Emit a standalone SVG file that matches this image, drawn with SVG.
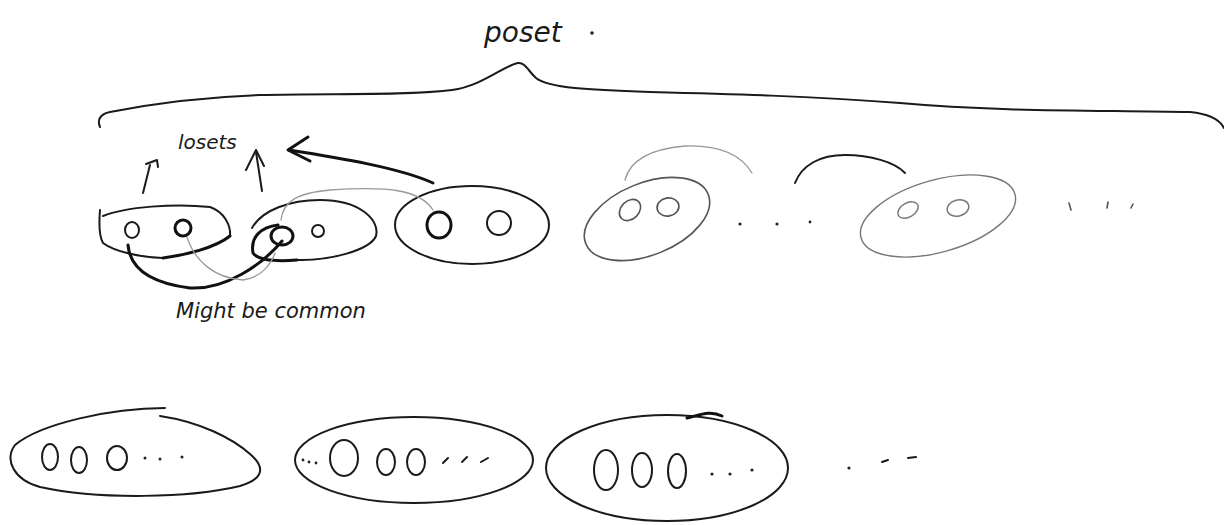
<svg xmlns="http://www.w3.org/2000/svg" width="1224" height="525" viewBox="0 0 1224 525">
<style>
.ink{fill:none;stroke:#1a1a1a;stroke-width:2;stroke-linecap:round;stroke-linejoin:round}
.thick{fill:none;stroke:#111;stroke-width:3;stroke-linecap:round;stroke-linejoin:round}
.mid{fill:none;stroke:#555;stroke-width:1.6;stroke-linecap:round}
.faint{fill:none;stroke:#777;stroke-width:1.4;stroke-linecap:round}
.light{fill:none;stroke:#999;stroke-width:1.3;stroke-linecap:round}
.dot{fill:#222}
.hand{font-family:"DejaVu Sans","Liberation Sans",sans-serif;fill:#1a1a1a;font-style:italic}
</style>
<rect width="1224" height="525" fill="#ffffff"/>

<g id="title">
<text class="hand" x="484" y="42" font-size="28">poset</text>
<circle class="dot" cx="592" cy="33" r="1.8"/>
</g>

<g id="brace">
<path class="ink" stroke-width="1.6" d="M100,127 C97,120 100,114 110,112 C150,104 200,97 260,95 C330,93 400,96 452,90 C482,86 503,66 518,63 C525,62 529,72 536,78 C548,88 590,90 650,92 C730,94 810,96 900,103 C1000,112 1100,110 1190,112 C1210,114 1220,120 1224,128"/>
</g>

<g id="losets-label">
<text class="hand" x="178" y="149" font-size="20">losets</text>
</g>

<g id="node-a">
<path class="ink" d="M100,210 C99,222 99,236 103,243 C115,252 140,257 163,258"/>
<path class="ink" d="M103,216 C125,207 175,203 210,207 C224,212 231,225 230,236"/>
<path class="thick" d="M230,236 C215,248 185,255 163,258"/>
<ellipse class="ink" cx="132" cy="230" rx="7" ry="8"/>
<circle class="thick" cx="183" cy="228" r="8"/>
</g>

<g id="node-b">
<path class="ink" stroke-width="1.6" d="M297,260 C330,261 370,250 376,236 C380,220 360,200 320,200 C290,200 262,210 252,228"/>
<path class="thick" d="M278,225 C262,227 250,236 253,253 C258,260 272,262 297,260"/>
<ellipse class="thick" cx="282" cy="236" rx="11" ry="9"/>
<circle class="ink" cx="318" cy="231" r="6"/>
</g>

<g id="node-c">
<ellipse class="ink" cx="472" cy="225" rx="77" ry="39"/>
<ellipse class="thick" cx="439" cy="225" rx="12" ry="13"/>
<ellipse class="ink" stroke-width="1.6" cx="499" cy="223" rx="12" ry="12"/>
</g>

<g id="node-d">
<ellipse class="mid" cx="647" cy="219" rx="66" ry="36" transform="rotate(-22 647 219)"/>
<ellipse class="mid" cx="630" cy="210" rx="12" ry="9" transform="rotate(-45 630 210)"/>
<ellipse class="mid" cx="668" cy="207" rx="11" ry="9" transform="rotate(-10 668 207)"/>
</g>

<g id="dots-1">
<circle class="dot" cx="740" cy="224" r="1.6"/>
<circle class="dot" cx="777" cy="224" r="1.6"/>
<circle class="dot" cx="810" cy="222" r="1.4"/>
</g>

<g id="node-e">
<ellipse class="faint" cx="938" cy="216" rx="80" ry="36" transform="rotate(-16 938 216)"/>
<ellipse class="faint" cx="908" cy="210" rx="11" ry="7" transform="rotate(-30 908 210)"/>
<ellipse class="faint" cx="958" cy="208" rx="11" ry="8" transform="rotate(-15 958 208)"/>
</g>

<g id="dots-2">
<path class="mid" d="M1069,203 L1071,210"/>
<path class="mid" d="M1108,202 L1107,208"/>
<path class="mid" d="M1133,204 L1131,208"/>
</g>

<g id="node-f">
<path class="ink" d="M165,408 C110,408 40,424 15,445 C4,460 14,480 40,487 C100,500 190,498 240,486 C266,478 264,466 250,454 C232,438 200,422 160,416"/>
<ellipse class="ink" cx="50" cy="457" rx="8" ry="13"/>
<ellipse class="ink" cx="79" cy="460" rx="8" ry="13"/>
<ellipse class="ink" cx="117" cy="458" rx="10" ry="12"/>
<circle class="dot" cx="145" cy="458" r="1.5"/>
<circle class="dot" cx="160" cy="459" r="1.5"/>
<circle class="dot" cx="182" cy="457" r="1.5"/>
</g>

<g id="node-g">
<ellipse class="ink" cx="414" cy="460" rx="119" ry="43"/>
<circle class="dot" cx="303" cy="460" r="1.4"/>
<circle class="dot" cx="309" cy="462" r="1.4"/>
<circle class="dot" cx="316" cy="463" r="1.4"/>
<ellipse class="ink" cx="344" cy="458" rx="14" ry="18"/>
<ellipse class="ink" cx="386" cy="462" rx="9" ry="13"/>
<ellipse class="ink" cx="416" cy="462" rx="9" ry="13"/>
<path class="ink" d="M443,463 L448,458"/>
<path class="ink" d="M462,462 L467,457"/>
<path class="ink" d="M481,462 L488,458"/>
</g>

<g id="node-h">
<ellipse class="ink" cx="667" cy="468" rx="121" ry="53"/>
<path class="thick" d="M687,418 C700,415 710,410 722,416"/>
<ellipse class="ink" cx="606" cy="470" rx="12" ry="20"/>
<ellipse class="ink" cx="642" cy="470" rx="10" ry="17"/>
<ellipse class="ink" cx="677" cy="471" rx="9" ry="17"/>
<circle class="dot" cx="712" cy="474" r="1.6"/>
<circle class="dot" cx="730" cy="474" r="1.6"/>
<circle class="dot" cx="752" cy="470" r="1.6"/>
</g>

<g id="dots-3">
<circle class="dot" cx="849" cy="468" r="1.6"/>
<path class="ink" d="M882,462 L888,460"/>
<path class="ink" d="M908,458 L916,457"/>
</g>

<g id="common-label">
<text class="hand" x="176" y="318" font-size="21">Might be common</text>
</g>

<g id="connectors">
<path class="ink" stroke-width="1.6" d="M143,193 L150,165"/>
<path class="ink" stroke-width="1.6" d="M146,164 L157,160 L158,167"/>
<path class="ink" stroke-width="1.8" d="M262,191 L256,152"/>
<path class="ink" stroke-width="1.8" d="M246,170 L256,150 L264,166"/>
<path class="thick" d="M433,183 C400,168 340,158 289,150"/>
<path class="thick" d="M308,137 L288,150 L310,161"/>
<path class="thick" d="M128,245 C130,268 150,283 190,288 C225,290 262,265 282,241"/>
<path class="light" d="M187,237 C195,262 215,278 243,280 C262,278 272,262 275,253"/>
<path class="light" d="M281,220 C283,202 296,193 330,190 C390,186 420,190 433,210"/>
<path class="light" d="M625,180 C630,160 650,149 685,146 C715,145 740,153 752,173"/>
<path class="ink" stroke-width="1.8" d="M795,183 C802,165 820,155 845,155 C870,155 895,162 905,173"/>
</g>
</svg>
